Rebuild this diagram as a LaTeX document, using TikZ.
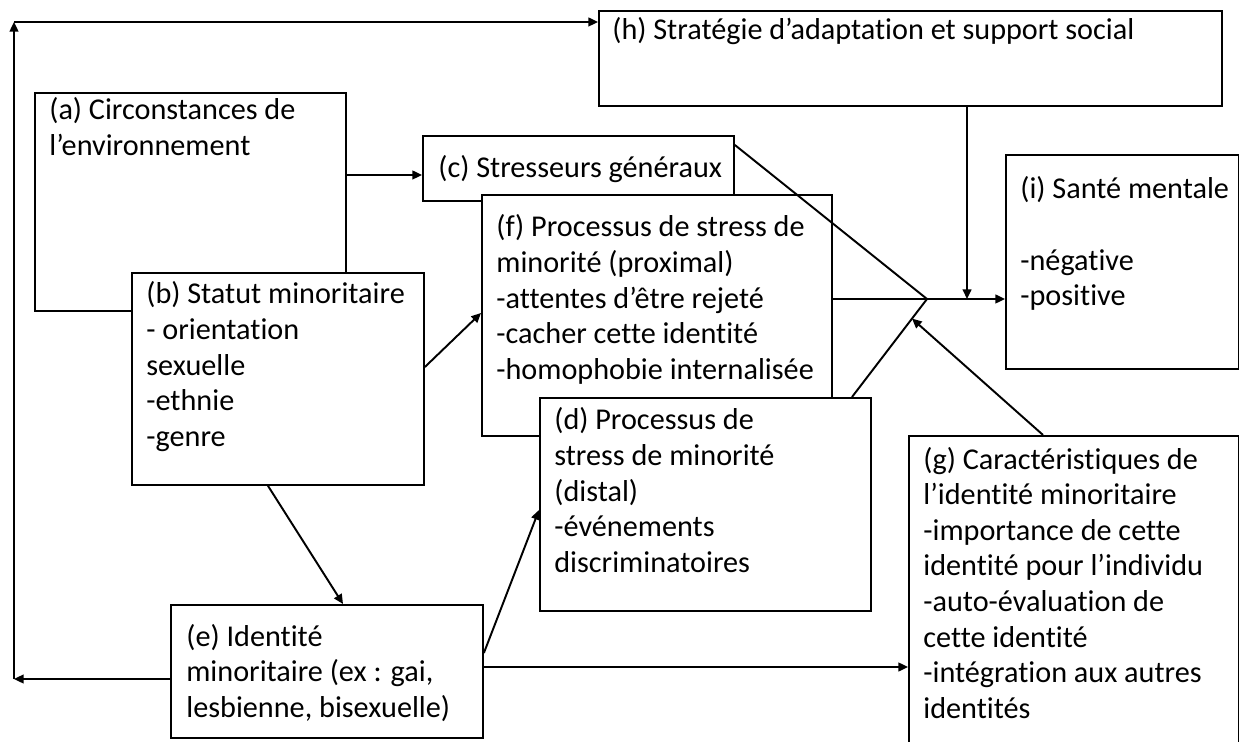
\documentclass[tikz,border=0pt]{standalone}
\usepackage{fontspec}
\setmainfont{Carlito}[Ligatures={NoCommon}]
\usepackage{tikz}
\usetikzlibrary{arrows.meta,calc}

\begin{document}
\begin{tikzpicture}[
    x=0.02cm, y=-0.02cm,
    cadre/.style={rectangle, draw, fill=white, line width=1.1pt, inner sep=0pt, anchor=north west},
    texte/.style={anchor=base west, inner sep=0pt, font=\fontsize{17.2}{20.3}\selectfont},
    fleche/.style={-{Triangle[length=5.5pt, width=5pt]}, line width=1.1pt},
    trait/.style={line width=1.1pt}
]
\useasboundingbox (0,0) rectangle (1239,742);
\clip (0,0) rectangle (1239,742);

% boxes, back to front
\node[cadre, minimum width=6.22cm, minimum height=4.36cm] (a) at (34,92) {};
\node[cadre, minimum width=5.84cm, minimum height=4.24cm] (b) at (131,272) {};
\node[cadre, minimum width=6.22cm, minimum height=1.30cm] (c) at (422,135) {};
\node[cadre, minimum width=7.00cm, minimum height=4.82cm] (f) at (481,194) {};
\node[cadre, minimum width=6.62cm, minimum height=4.26cm] (d) at (539,397) {};
\node[cadre, minimum width=6.24cm, minimum height=2.66cm] (e) at (170,604) {};
\node[cadre, minimum width=6.60cm, minimum height=6.80cm] (g) at (908,435) {};
\node[cadre, minimum width=12.46cm, minimum height=1.90cm] (h) at (598,10) {};
\node[cadre, minimum width=4.66cm, minimum height=4.28cm] (i) at (1005,154) {};

% texts
\node[texte] (a-txt) at ([shift={(15,28)}]a.north west) {\parbox[t]{6cm}{(a) Circonstances de\\l’environnement}};
\node[texte] (b-txt) at ([shift={(15,32)}]b.north west) {\parbox[t]{6cm}{(b) Statut minoritaire\\- orientation\\sexuelle\\-ethnie\\-genre}};
\node[texte] (c-txt) at ([shift={(16,43)}]c.north west) {(c) Stresseurs généraux};
\node[texte] (f-txt) at ([shift={(15,43)}]f.north west) {\parbox[t]{7cm}{(f) Processus de stress de\\minorité (proximal)\\-attentes d’être rejeté\\-cacher cette identité\\-homophobie internalisée}};
\node[texte] (d-txt) at ([shift={(15,33)}]d.north west) {\parbox[t]{6cm}{(d) Processus de\\stress de minorité\\(distal)\\-événements\\discriminatoires}};
\node[texte] (e-txt) at ([shift={(16,42)}]e.north west) {\parbox[t]{6cm}{(e) Identité\\minoritaire (ex : gai,\\lesbienne, bisexuelle)}};
\node[texte] (g-txt) at ([shift={(15,34)}]g.north west) {\parbox[t]{6cm}{(g) Caractéristiques de\\l’identité minoritaire\\-importance de cette\\identité pour l’individu\\-auto-évaluation de\\cette identité\\-intégration aux autres\\identités}};
\node[texte] (h-txt) at ([shift={(14,30)}]h.north west) {(h) Stratégie d’adaptation et support social};
\node[texte] (i-txt) at ([shift={(15,45)}]i.north west) {\parbox[t]{4.5cm}{(i) Santé mentale\\\mbox{}\\-négative\\-positive}};

% connectors
\coordinate (jonction) at (927,299);
\coordinate (coin-bas) at (14,679);
\coordinate (coin-haut) at (14,22);
\coordinate (d-haut) at (852,397);

\draw[fleche] (a.east |- 0,175) -- (c.west |- 0,175);
\draw[fleche] (b.east |- 0,367) -- (f.west |- 0,313);
\draw[fleche] (b.south -| 268,0) -- (e.north -| 343,0);
\draw[fleche] (e.east |- 0,653) -- (d.west |- 0,510);
\draw[fleche] (e.east |- 0,667) -- (g.west |- 0,667);
\draw[fleche] (e.west |- coin-bas) -- (coin-bas);
\draw[fleche] (coin-bas) -- (coin-haut);
\draw[fleche] (coin-haut) -- (h.west |- coin-haut);

\draw[trait] (f.east |- jonction) -- (jonction);
\draw[trait] ([yshift=-0.2cm]c.north east) -- (jonction);
\draw[trait] (d-haut) -- (jonction);
\draw[fleche] (jonction) -- (i.west |- jonction);
\draw[fleche] (h.south -| 967,0) -- (jonction -| 967,0);
\draw[fleche] (g.north -| 1043,0) -- ($(d-haut)!0.8!(jonction)$);
\end{tikzpicture}
\end{document}
